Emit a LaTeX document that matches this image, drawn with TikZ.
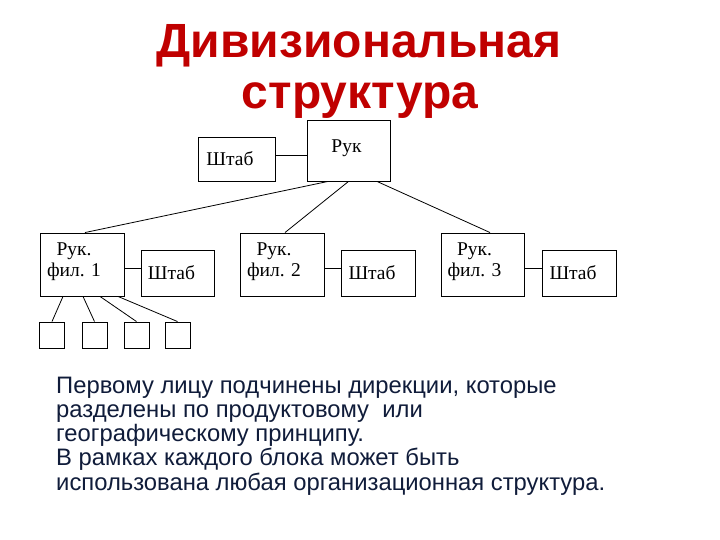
\documentclass[tikz,border=0pt]{standalone}
\usepackage{fontspec}
\setmainfont{Liberation Serif}
\newfontfamily\arialfont{Liberation Sans}
\usetikzlibrary{positioning}

\definecolor{titlered}{RGB}{192,0,0}
\definecolor{textnavy}{RGB}{16,28,58}

\tikzset{
    boxfont/.style = {font = \fontsize{19.5}{21}\selectfont},
    box/.style = {draw, line width = 0.9pt, inner sep = 0pt},
    sqbox/.style = {draw, line width = 0.9pt, inner sep = 0pt, minimum width = 25pt, minimum height = 26pt},
    link/.style = {line width = 0.8pt},
    titletext/.style = {anchor = base, text = titlered, font = \arialfont\bfseries\fontsize{48}{50}\selectfont}
}

\begin{document}
\begin{tikzpicture}[x = 1pt, y = 1pt, every node/.style = {scale = 1}]

        \useasboundingbox [fill = white] (0, 0) rectangle (720, 540);

        % Title
        \node (title1) [titletext] at (359, 482) {Дивизиональная};
        \node (title2) [titletext] at (360, 431) {структура};

        % Head
        \node (ruk) [box, minimum width = 83pt, minimum height = 61pt,
            label = {[boxfont, inner sep = 0pt, xshift = -2pt, yshift = 2pt]center:Рук}] at (348.5, 389.5) {};
        \node (shtab) [box, minimum width = 77pt, minimum height = 44pt,
            label = {[boxfont, inner sep = 0pt, xshift = -6.5pt]center:Штаб}] at (236.5, 381) {};
        \draw [link] ([yshift = 4pt] shtab.east) -- ([yshift = 4pt] shtab.east -| ruk.west);

        % Branch 1
        \node (fil1) [box, minimum width = 84pt, minimum height = 63pt,
            label = {[boxfont, align = center, inner sep = 0pt, xshift = -8pt, yshift = 3pt]center:Рук.\\фил. 1}] at (82, 275.5) {};
        \node (shtab1) [box, minimum width = 73pt, minimum height = 46pt,
            label = {[boxfont, inner sep = 0pt, xshift = -6pt]center:Штаб}] at (177.5, 267) {};
        \draw [link] ([yshift = 5pt] shtab1.west) -- ([yshift = 5pt] shtab1.west -| fil1.east);

        % Branch 2
        \node (fil2) [box, minimum width = 84pt, minimum height = 63pt,
            label = {[boxfont, align = center, inner sep = 0pt, xshift = -8pt, yshift = 3pt]center:Рук.\\фил. 2}] at (282, 275.5) {};
        \node (shtab2) [box, minimum width = 74pt, minimum height = 46pt,
            label = {[boxfont, inner sep = 0pt, xshift = -6pt]center:Штаб}] at (378, 267) {};
        \draw [link] ([yshift = 5pt] shtab2.west) -- ([yshift = 5pt] shtab2.west -| fil2.east);

        % Branch 3
        \node (fil3) [box, minimum width = 83pt, minimum height = 63pt,
            label = {[boxfont, align = center, inner sep = 0pt, xshift = -8pt, yshift = 3pt]center:Рук.\\фил. 3}] at (482.5, 275.5) {};
        \node (shtab3) [box, minimum width = 74pt, minimum height = 46pt,
            label = {[boxfont, inner sep = 0pt, xshift = -6pt]center:Штаб}] at (579, 267) {};
        \draw [link] ([yshift = 5pt] shtab3.west) -- ([yshift = 5pt] shtab3.west -| fil3.east);

        %% Head to branches
        \draw [link] ([xshift = -20.5pt] ruk.south) -- ([xshift = 3pt] fil1.north);
        \draw [link] (ruk.south) -- ([xshift = 3pt] fil2.north);
        \draw [link] ([xshift = 28.5pt] ruk.south) -- ([xshift = 7.5pt] fil3.north);

        % Units of branch 1
        \foreach \i/\x/\s in {1/52/-19, 2/94.5/1, 3/136.5/18, 4/177.5/36} {
            \node (sq\i) [sqbox] at (\x, 205) {};
            \draw [link] ([xshift = \s pt] fil1.south) -- (sq\i.north);
        }

        % Note
        \node (note) [anchor = north west, align = left, inner sep = 0pt, text = textnavy,
            font = \arialfont\fontsize{23.8}{24.3}\selectfont] at (56, 163.5)
            {Первому лицу подчинены дирекции, которые\\
             разделены по продуктовому\ \ или\\
             географическому принципу.\\
             В рамках каждого блока может быть\\
             использована любая организационная структура.};

    \end{tikzpicture}
\end{document}
